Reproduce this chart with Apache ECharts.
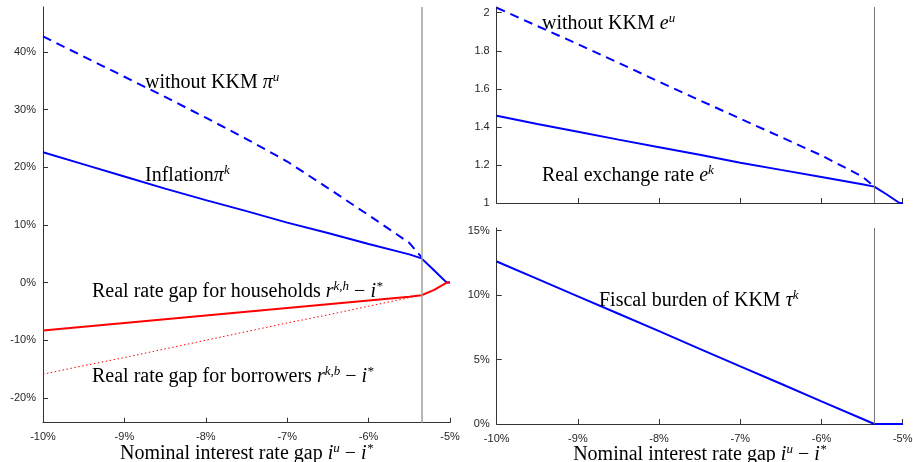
<!DOCTYPE html>
<html>
<head>
<meta charset="utf-8">
<script src="https://cdn.jsdelivr.net/npm/echarts@6/dist/echarts.min.js"></script>
<style>html,body{margin:0;padding:0;background:#fff}#c{width:913px;height:462px}</style>
</head>
<body>
<div id="c"></div>
<script>
// ---- data ----
const gap = [-10, -9.5, -9, -8.5, -8, -7.5, -7, -6.5, -6, -5.5, -5.35, -5.2, -5.04, -5.0]; // i^u - i^* (%)
const inflationK  = [22.6, 20.5, 18.4, 16.3, 14.3, 12.4, 10.4, 8.6, 6.7, 4.9, 4.2, 2.2, 0.0, 0.0];
const inflationU  = [42.7, 39.2, 35.7, 32.2, 28.6, 24.9, 21.0, 16.4, 11.7, 6.9, 4.4, null, null, null];
const householdsGap = [-8.3, -7.65, -7.0, -6.35, -5.7, -5.05, -4.4, -3.75, -3.1, -2.45, -2.2, -1.3, 0.0, 0.0];
const borrowersGap  = [-15.9, -14.4, -13.0, -11.5, -10.0, -8.5, -7.0, -5.6, -4.1, -2.6, -2.2, null, null, null];
const exchangeK = [1.459, 1.415, 1.374, 1.333, 1.293, 1.253, 1.212, 1.174, 1.137, 1.099, 1.086, 1.046, 1.0, 1.0];
const exchangeU = [2.026, 1.93, 1.835, 1.737, 1.637, 1.54, 1.443, 1.347, 1.25, 1.14, 1.086, null, null, null];
const fiscalBurden = [12.6, 11.25, 9.9, 8.55, 7.2, 5.83, 4.47, 3.12, 1.76, 0.41, 0.0, 0.0, 0.0, 0.0];
const kkmThreshold = -5.35;

const xTicks = [-10, -9, -8, -7, -6, -5];
const yTicksLeft = [-20, -10, 0, 10, 20, 30, 40];
const yTicksExch = [1, 1.2, 1.4, 1.6, 1.8, 2];
const yTicksFisc = [0, 5, 10, 15];

const annotations = [
  {grid: 'left',  text: '{n|without KKM }{m|π}{s|u}'},
  {grid: 'left',  text: '{n|Inflation}{m|π}{s|k}'},
  {grid: 'left',  text: '{n|Real rate gap for households }{m|r}{s|k,h}{n| − }{m|i}{s|*}'},
  {grid: 'left',  text: '{n|Real rate gap for borrowers }{m|r}{s|k,b}{n| − }{m|i}{s|*}'},
  {grid: 'rt',    text: '{n|without KKM }{m|e}{s|u}'},
  {grid: 'rt',    text: '{n|Real exchange rate }{m|e}{s|k}'},
  {grid: 'rb',    text: '{n|Fiscal burden of KKM }{m|τ}{s|k}'}
];
const xName = '{n|Nominal interest rate gap }{m|i}{s|u}{n| − }{m|i}{s|*}';

// ---- styling ----
const pair = (ys) => gap.map((x, i) => [x, ys[i]]);
const SERIF = '"Liberation Serif", "Times New Roman", serif';
const SANS = '"Liberation Sans", Arial, Helvetica, sans-serif';
const rich = {
  n: {fontFamily: SERIF, fontSize: 20, color: '#000', verticalAlign: 'bottom', lineHeight: 26},
  m: {fontFamily: SERIF, fontStyle: 'italic', fontSize: 20, color: '#000', verticalAlign: 'bottom', lineHeight: 26},
  s: {fontFamily: SERIF, fontStyle: 'italic', fontSize: 13, color: '#000', verticalAlign: 'top', padding: [4, 0, 0, 0]}
};
const AX = '#333';
function xAxisCfg(gi, showLabels, showName) {
  return {
    type: 'value', gridIndex: gi, min: -10, max: -5,
    axisLine: {show: true, onZero: false, lineStyle: {color: AX, width: 1}},
    axisTick: {show: true, inside: true, length: 5, lineStyle: {color: AX}, customValues: xTicks},
    axisLabel: {show: showLabels, customValues: xTicks, formatter: v => v + '%', fontFamily: SANS, fontSize: 11, color: '#262626', margin: 9},
    splitLine: {show: false},
    name: showName ? xName : '', nameLocation: 'middle', nameGap: 15, nameMoveOverlap: false,
    nameTextStyle: {rich: rich}
  };
}
function yAxisCfg(gi, min, max, ticks, fmt) {
  return {
    type: 'value', gridIndex: gi, min: min, max: max,
    axisLine: {show: true, lineStyle: {color: AX, width: 1}},
    axisTick: {show: true, inside: true, length: 5, lineStyle: {color: AX}, customValues: ticks},
    axisLabel: {customValues: ticks, formatter: fmt, fontFamily: SANS, fontSize: 11, color: '#262626', margin: 7},
    splitLine: {show: false}
  };
}
const vline = (color, width) => ({
  silent: true, symbol: 'none', label: {show: false},
  lineStyle: {color: color, width: width, type: 'solid'},
  data: [{xAxis: kkmThreshold}], animation: false
});
const lineSeries = (gi, ys, color, width, type, extra) => Object.assign({
  type: 'line', xAxisIndex: gi, yAxisIndex: gi, data: pair(ys),
  showSymbol: false, symbol: 'none', connectNulls: false, animation: false,
  lineStyle: {color: color, width: width, type: type}, z: 3
}, extra || {});

const annPos = [[145, 67], [145, 160], [92, 276], [92, 361], [542, 8], [542, 160], [599, 285]];

const chart = echarts.init(document.getElementById('c'), null, {renderer: 'canvas'});
const gridBase = {containLabel: false, outerBoundsMode: 'none'};
chart.setOption({
  animation: false,
  backgroundColor: '#fff',
  grid: [
    Object.assign({left: 43, top: 7, width: 407, height: 415.7}, gridBase),
    Object.assign({left: 496.7, top: 7, width: 406, height: 196}, gridBase),
    Object.assign({left: 496.7, top: 228, width: 406, height: 196}, gridBase)
  ],
  xAxis: [xAxisCfg(0, true, true), xAxisCfg(1, false, false), xAxisCfg(2, true, true)],
  yAxis: [
    yAxisCfg(0, -24.3, 47.8, yTicksLeft, v => v + '%'),
    yAxisCfg(1, 1, 2.03, yTicksExch, v => String(v)),
    yAxisCfg(2, 0, 15.2, yTicksFisc, v => v + '%')
  ],
  series: [
    lineSeries(0, inflationU, '#0000ff', 2, [9, 6], {markLine: vline('#a0a0a0', 1.5)}),
    lineSeries(0, inflationK, '#0000ff', 2, 'solid'),
    lineSeries(0, borrowersGap, '#ff0000', 1, [1.5, 2.5]),
    lineSeries(0, householdsGap, '#ff0000', 2, 'solid'),
    lineSeries(1, exchangeU, '#0000ff', 2, [9, 6], {markLine: vline('#777', 1)}),
    lineSeries(1, exchangeK, '#0000ff', 2, 'solid'),
    lineSeries(2, fiscalBurden, '#0000ff', 2, 'solid', {markLine: vline('#777', 1)})
  ],
  graphic: annotations.map((a, i) => ({
    type: 'text', x: annPos[i][0], y: annPos[i][1], silent: true, z: 10,
    style: {text: a.text, rich: rich, textAlign: 'left', textVerticalAlign: 'top', verticalAlign: 'top'}
  }))
});
</script>
</body>
</html>
